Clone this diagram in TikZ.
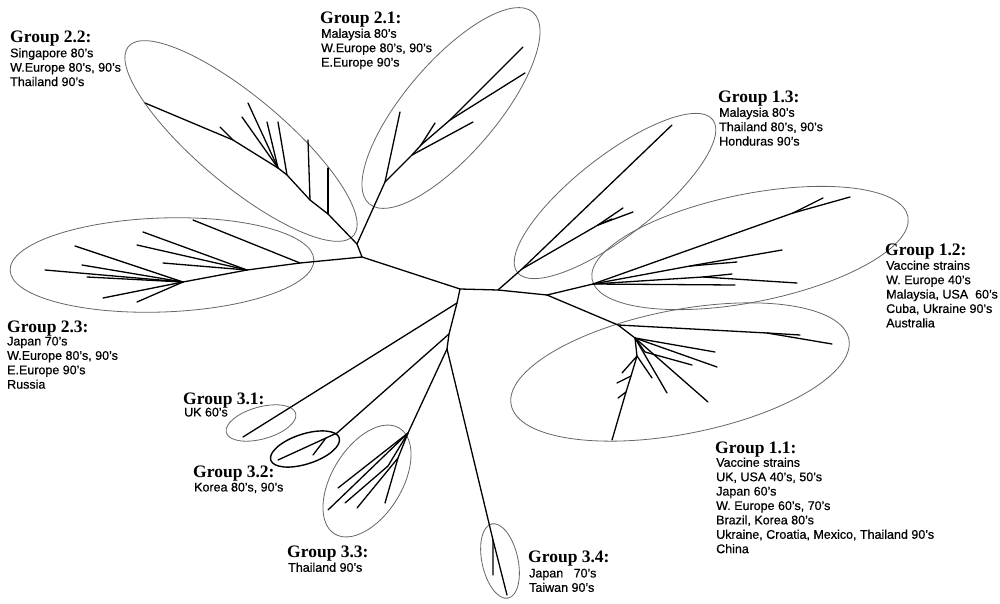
\documentclass[tikz,border=0pt]{standalone}
\usepackage{fontspec}
\newfontfamily\hdrfam{Liberation Serif}
\newfontfamily\bodyfam[FakeBold=0.5]{Liberation Sans}
\usetikzlibrary{shapes.geometric}
\begin{document}
\begin{tikzpicture}[x=1pt,y=-1pt,
  br/.style={line width=1.3pt, line cap=round, line join=round},
  grp/.style={draw=black!60, line width=0.8pt, ellipse, inner sep=0pt},
  hdr/.style={anchor=base west, inner sep=0pt, font=\hdrfam\bfseries\fontsize{17.5}{18}\selectfont},
  body/.style={anchor=north west, inner sep=0pt, align=left, font=\bodyfam\fontsize{12.5}{14.4}\selectfont}]
\fill[white] (0,0) rectangle (1000,604);
\useasboundingbox (0,0) rectangle (1000,604);

% ---------- ellipses ----------
\node[grp, minimum width=294pt, minimum height=88pt, rotate=-40] (e22) at (241,141) {};
\node[grp, minimum width=252pt, minimum height=92pt, rotate=49.5] (e21) at (451,108) {};
\node[grp, minimum width=248pt, minimum height=80pt, rotate=38] (e13) at (615,196) {};
\node[grp, minimum width=322pt, minimum height=108pt, rotate=11.3] (e12) at (750,248) {};
\node[grp, minimum width=344pt, minimum height=124pt, rotate=11] (e11) at (680,372) {};
\node[grp, minimum width=304pt, minimum height=94pt, rotate=2] (e23) at (162,265) {};
\node[grp, minimum width=72pt, minimum height=32pt, rotate=15.6] (e31) at (261,423) {};
\node[grp, draw=black, line width=1.4pt, minimum width=72pt, minimum height=30pt, rotate=18] (e32) at (305,449) {};
\node[grp, minimum width=124pt, minimum height=70pt, rotate=58.5] (e33) at (367,481) {};
\node[grp, minimum width=76pt, minimum height=36pt, rotate=-77.6] (e34) at (500,561) {};

% ---------- internal nodes ----------
\coordinate (C1) at (460,289);
\coordinate (C2) at (498,290);
\coordinate (A) at (362,257);
\coordinate (B) at (357,244);
\coordinate (D) at (547,295);
\coordinate (E) at (457,303);
\coordinate (E2) at (449,334);
\coordinate (E3) at (447,349);

\draw[br] (B) -- (A) -- (C1) -- (C2) -- (D);
\draw[br] (C1) -- (E) -- (E2) -- (E3);

% ---------- group 1.3 ----------
\coordinate (n13) at (522,269);
\coordinate (n13b) at (598,225);
\coordinate (t13a) at (672,125);
\coordinate (t13b) at (623,208);
\coordinate (t13c) at (633,212);
\coordinate (t13d) at (612,219);
\draw[br] (C2) -- (n13) -- (t13a);
\draw[br] (n13) -- (n13b) -- (t13b);
\draw[br] (n13b) -- (t13c);
\draw[br] (n13b) -- (t13d);

% ---------- group 1.2 ----------
\coordinate (F) at (593,284);
\coordinate (n12a) at (793,213);
\coordinate (n12b) at (690,266);
\coordinate (n12c) at (703,277);
\coordinate (t12a) at (850,197);
\coordinate (t12b) at (823,198);
\coordinate (t12c) at (782,250);
\coordinate (t12d) at (737,262);
\coordinate (t12e) at (732,274);
\coordinate (t12f) at (797,283);
\coordinate (t12g) at (735,285);
\draw[br] (D) -- (F) -- (n12a) -- (t12a);
\draw[br] (n12a) -- (t12b);
\draw[br] (F) -- (n12b) -- (t12c);
\draw[br] (n12b) -- (t12d);
\draw[br] (F) -- (n12c) -- (t12e);
\draw[br] (n12c) -- (t12f);
\draw[br] (F) -- (t12g);

% ---------- group 1.1 ----------
\coordinate (G) at (618,325);
\coordinate (H) at (635,338);
\coordinate (n11a) at (767,333);
\coordinate (n11c) at (637,356);
\coordinate (n11d) at (631,376);
\coordinate (n11e) at (626,392);
\coordinate (n11f) at (645,352);
\coordinate (t11a) at (832,344);
\coordinate (t11b) at (800,335);
\coordinate (t11c) at (715,352);
\coordinate (t11d) at (717,367);
\coordinate (t11e) at (692,365);
\coordinate (t11f) at (667,393);
\coordinate (t11g) at (708,402);
\coordinate (t11h) at (612,440);
\coordinate (t11i) at (617,383);
\coordinate (t11j) at (618,398);
\coordinate (t11k) at (622,373);
\coordinate (t11l) at (652,378);
\draw[br] (D) -- (G) -- (n11a) -- (t11a);
\draw[br] (n11a) -- (t11b);
\draw[br] (G) -- (H) -- (t11c);
\draw[br] (H) -- (t11d);
\draw[br] (H) -- (n11f) -- (t11e);
\draw[br] (H) -- (t11f);
\draw[br] (H) -- (t11g);
\draw[br] (H) -- (n11c) -- (n11d) -- (n11e) -- (t11h);
\draw[br] (n11d) -- (t11i);
\draw[br] (n11e) -- (t11j);
\draw[br] (n11c) -- (t11k);
\draw[br] (n11c) -- (t11l);

% ---------- group 2.2 ----------
\coordinate (p1) at (328,214);
\coordinate (p2) at (310,200);
\coordinate (p3) at (287,175);
\coordinate (p4) at (278,168);
\coordinate (p5) at (233,140);
\coordinate (t22a) at (145,103);
\coordinate (t22b) at (328,168);
\coordinate (t22c) at (308,140);
\coordinate (t22d) at (278,122);
\coordinate (t22e) at (248,103);
\coordinate (t22f) at (242,117);
\coordinate (t22g) at (267,122);
\coordinate (t22h) at (220,127);
\draw[br] (B) -- (p1) -- (p2) -- (p3) -- (p4) -- (p5) -- (t22a);
\draw[br] (p1) -- (t22b);
\draw[br] (p2) -- (t22c);
\draw[br] (p3) -- (t22d);
\draw[br] (p4) -- (t22e);
\draw[br] (p4) -- (t22f);
\draw[br] (p4) -- (t22g);
\draw[br] (p5) -- (t22h);

% ---------- group 2.1 ----------
\coordinate (q1) at (385,182);
\coordinate (q2) at (412,155);
\coordinate (q3) at (421,145);
\coordinate (q4) at (450,120);
\coordinate (t21a) at (523,47);
\coordinate (t21b) at (525,73);
\coordinate (t21c) at (400,112);
\coordinate (t21d) at (435,123);
\coordinate (t21e) at (473,122);
\draw[br] (B) -- (q1) -- (q2) -- (q3) -- (q4) -- (t21a);
\draw[br] (q4) -- (t21b);
\draw[br] (q1) -- (t21c);
\draw[br] (q3) -- (t21d);
\draw[br] (q2) -- (t21e);

% ---------- group 2.3 ----------
\coordinate (r1) at (300,263);
\coordinate (r2) at (247,270);
\coordinate (r3) at (183,282);
\coordinate (t23a) at (193,220);
\coordinate (t23b) at (143,232);
\coordinate (t23c) at (137,245);
\coordinate (t23d) at (163,263);
\coordinate (t23e) at (45,270);
\coordinate (t23f) at (75,246);
\coordinate (t23g) at (82,265);
\coordinate (t23h) at (87,277);
\coordinate (t23i) at (103,298);
\coordinate (t23j) at (137,302);
\draw[br] (A) -- (r1) -- (t23a);
\draw[br] (r1) -- (r2) -- (t23b);
\draw[br] (r2) -- (t23c);
\draw[br] (r2) -- (t23d);
\draw[br] (r2) -- (r3) -- (t23e);
\draw[br] (r3) -- (t23f);
\draw[br] (r3) -- (t23g);
\draw[br] (r3) -- (t23h);
\draw[br] (r3) -- (t23i);
\draw[br] (r3) -- (t23j);

% ---------- group 3 ----------
\coordinate (t31) at (243,437);
\draw[br] (E) -- (t31);

\coordinate (s1) at (337,433);
\coordinate (s2) at (326,438);
\coordinate (t32a) at (278,460);
\coordinate (t32b) at (313,455);
\draw[br] (E2) -- (s1) -- (s2) -- (t32a);
\draw[br] (s2) -- (t32b);

\coordinate (u1) at (408,433);
\coordinate (u2) at (398,458);
\coordinate (u3) at (388,466);
\coordinate (t33a) at (338,488);
\coordinate (t33b) at (328,510);
\coordinate (t33c) at (385,503);
\coordinate (t33d) at (357,508);
\coordinate (t33e) at (345,503);
\draw[br] (E3) -- (u1) -- (t33a);
\draw[br] (u1) -- (t33b);
\draw[br] (u1) -- (u2) -- (t33c);
\draw[br] (u2) -- (t33d);
\draw[br] (u1) -- (u3) -- (t33e);

\coordinate (v1) at (493,540);
\coordinate (t34a) at (493,575);
\coordinate (t34b) at (507,595);
\draw[br] (E3) -- (v1) -- (t34a);
\draw[br] (v1) -- (t34b);

% ---------- labels ----------
\node[hdr] (h22) at (10,43) {Group 2.2:};
\node[body] (b22) at (10,48) {Singapore 80’s\\W.Europe 80’s, 90’s\\Thailand 90’s};

\node[hdr] (h21) at (320,24) {Group 2.1:};
\node[body] (b21) at (321,28.5) {Malaysia 80’s\\W.Europe 80’s, 90’s\\E.Europe 90’s};

\node[hdr] (h13) at (718,103) {Group 1.3:};
\node[body] (b13) at (719,107.5) {Malaysia 80’s\\Thailand 80’s, 90’s\\Honduras 90’s};

\node[hdr] (h12) at (885,255) {Group 1.2:};
\node[body] (b12) at (886,260.5) {Vaccine strains\\W. Europe 40’s\\Malaysia, USA\ \ 60’s\\Cuba, Ukraine 90’s\\Australia};

\node[hdr] (h23) at (7,332) {Group 2.3:};
\node[body] (b23) at (7,336.5) {Japan 70’s\\W.Europe 80’s, 90’s\\E.Europe 90’s\\Russia};

\node[hdr] (h31) at (183,404) {Group 3.1:};
\node[body] (b31) at (184,407.5) {UK 60’s};

\node[hdr] (h32) at (193,477) {Group 3.2:};
\node[body] (b32) at (194,482.5) {Korea 80’s, 90’s};

\node[hdr] (h33) at (287,557) {Group 3.3:};
\node[body] (b33) at (288,562.5) {Thailand 90’s};

\node[hdr] (h34) at (528,562) {Group 3.4:};
\node[body] (b34) at (529,568.5) {Japan\ \ \ 70’s\\Taiwan 90’s};

\node[hdr] (h11) at (715,453) {Group 1.1:};
\node[body] (b11) at (716,457.5) {Vaccine strains\\UK, USA 40’s, 50’s\\Japan 60’s\\W. Europe 60’s, 70’s\\Brazil, Korea 80’s\\Ukraine, Croatia, Mexico, Thailand 90’s\\China};
\end{tikzpicture}
\end{document}
